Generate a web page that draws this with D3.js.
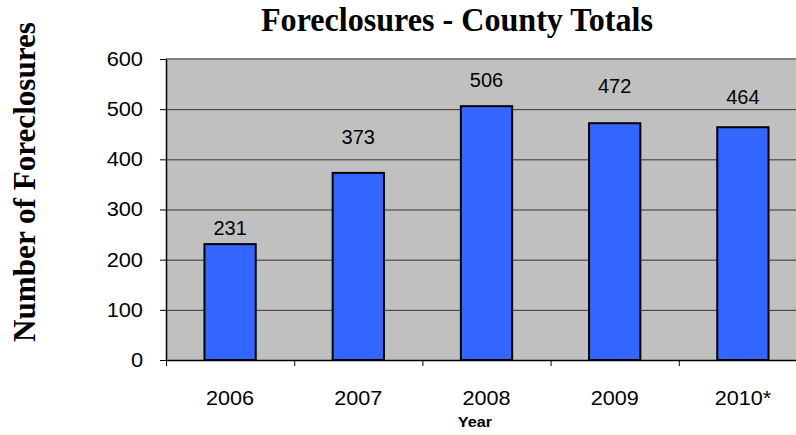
<!DOCTYPE html>
<html><head><meta charset="utf-8">
<script src="https://cdn.jsdelivr.net/npm/d3@7"></script>
<style>html,body{margin:0;padding:0;background:#fff;overflow:hidden}</style>
</head><body>
<svg id="c" width="796" height="435"></svg>
<script>
const years = ["2006", "2007", "2008", "2009", "2010*"];
const foreclosures = [231, 373, 506, 472, 464];
const yTicks = [0, 100, 200, 300, 400, 500, 600];
const labelOffsets = [9, 29, 19, 30, 23];

(function () {
const svg = d3.select("#c");
const pL = 166, pR = 807, pT = 59, pB = 360;
const x = d3.scaleBand().domain(years).range([pL, pR]);
const y = d3.scaleLinear().domain([0, 600]).range([pB, pT]);
const sans = "Liberation Sans, Arial, sans-serif";
const serif = "Liberation Serif, Times New Roman, serif";
function stretch(sel, k) {
  sel.each(function () {
    const w = this.getComputedTextLength();
    d3.select(this).attr("textLength", w * k).attr("lengthAdjust", "spacingAndGlyphs");
  });
}

svg.append("rect").attr("x", pL).attr("y", pT).attr("width", pR - pL).attr("height", pB - pT).attr("fill", "#C0C0C0");
svg.append("g").selectAll("line").data(yTicks.filter(d => d > 0 && d < 600)).join("line")
  .attr("x1", pL).attr("x2", pR).attr("y1", d => y(d) + 0.5).attr("y2", d => y(d) + 0.5)
  .attr("stroke", "#333").attr("stroke-width", 1);
svg.append("line").attr("x1", pL).attr("x2", pR).attr("y1", pT).attr("y2", pT).attr("stroke", "#808080").attr("stroke-width", 2);

const bw = x.bandwidth() * 0.4;
svg.append("g").selectAll("rect").data(foreclosures).join("rect")
  .attr("x", (d, i) => x(years[i]) + (x.bandwidth() - bw) / 2)
  .attr("y", d => y(d))
  .attr("width", bw)
  .attr("height", d => pB - y(d))
  .attr("fill", "#3366FF").attr("stroke", "#000").attr("stroke-width", 2);

const vl = svg.append("g").selectAll("text").data(foreclosures).join("text")
  .attr("x", (d, i) => x(years[i]) + x.bandwidth() / 2)
  .attr("y", (d, i) => y(d) - labelOffsets[i])
  .attr("text-anchor", "middle")
  .attr("font-family", sans).attr("font-size", 20)
  .attr("fill", "#000").text(d => d);

const yAxis = d3.axisLeft(y).tickValues(yTicks).tickSize(6).tickPadding(17).tickSizeOuter(0);
const gy = svg.append("g").attr("transform", `translate(${pL},0)`).call(yAxis);
gy.select(".domain").attr("stroke", "#000").attr("stroke-width", 1.5);
gy.selectAll(".tick line").attr("stroke", "#000");
gy.selectAll("text").attr("font-family", sans).attr("font-size", 20).attr("fill", "#000");
stretch(gy.selectAll("text"), 1.09);

const xAxis = d3.axisBottom(x).tickSize(0).tickPadding(31).tickSizeOuter(0);
const gx = svg.append("g").attr("transform", `translate(0,${pB})`).call(xAxis);
gx.select(".domain").attr("stroke", "#000").attr("stroke-width", 1.5);
gx.selectAll("text").attr("font-family", sans).attr("font-size", 20).attr("fill", "#000");
stretch(gx.selectAll("text"), 1.08);
svg.append("g").selectAll("line").data(years).join("line")
  .attr("x1", d => x(d) + 0.5).attr("x2", d => x(d) + 0.5)
  .attr("y1", pB).attr("y2", pB + 6).attr("stroke", "#000");

svg.append("text").attr("x", 457).attr("y", 31).attr("text-anchor", "middle")
  .attr("font-family", serif).attr("font-weight", "bold").attr("font-size", 34)
  .attr("textLength", 392).attr("lengthAdjust", "spacingAndGlyphs")
  .text("Foreclosures - County Totals");
svg.append("text").attr("transform", "translate(35,182) rotate(-90)").attr("text-anchor", "middle")
  .attr("font-family", serif).attr("font-weight", "bold").attr("font-size", 31)
  .attr("textLength", 320).attr("lengthAdjust", "spacingAndGlyphs")
  .text("Number of Foreclosures");
const yr = svg.append("text").attr("x", 475).attr("y", 427).attr("text-anchor", "middle")
  .attr("font-family", sans).attr("font-weight", "bold").attr("font-size", 15)
  .text("Year");
stretch(yr, 1.08);
})();
</script>
</body></html>
